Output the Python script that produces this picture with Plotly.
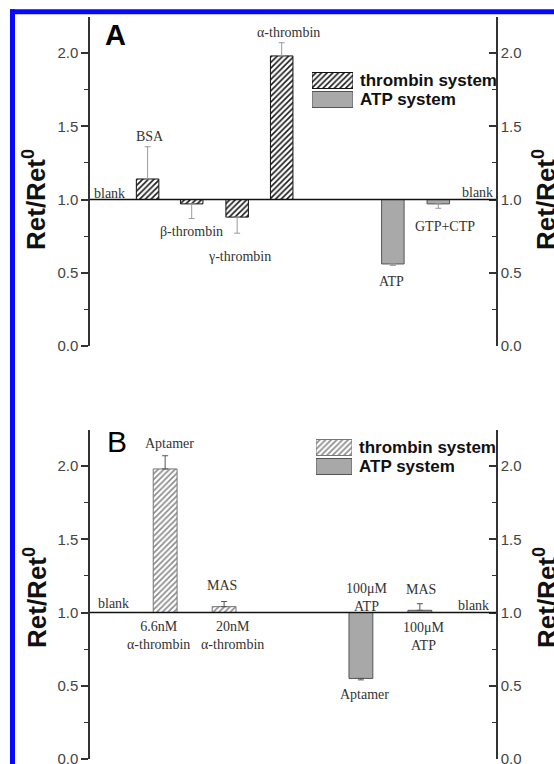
import plotly.graph_objects as go

W, H = 554, 764
baseline = 1.0  # "blank" reference level

# ---------------- data: panel A ----------------
a_names = ["BSA", "β-thrombin", "γ-thrombin", "α-thrombin", "ATP", "GTP+CTP"]
a_values = [1.14, 0.97, 0.88, 1.98, 0.56, 0.97]
a_errors = [0.22, 0.10, 0.11, 0.09, 0.01, 0.03]
a_system = ["thrombin", "thrombin", "thrombin", "thrombin", "ATP", "ATP"]
a_slots = [1.28, 2.26, 3.27, 4.26, 6.73, 7.74]

# ---------------- data: panel B ----------------
b_top_text = ["Aptamer", "MAS", "100μM<br>ATP", "MAS"]
b_bottom_text = ["6.6nM<br>α-thrombin", "20nM<br>α-thrombin", "Aptamer", "100μM<br>ATP"]
b_values = [1.98, 1.04, 0.55, 1.015]
b_errors = [0.09, 0.035, 0.01, 0.045]
b_system = ["thrombin", "thrombin", "ATP", "ATP"]
b_slots = [1.67, 2.98, 6.02, 7.33]

blank_label = "blank"
a_blank_slots = [0.44, 8.6]
b_blank_slots = [0.53, 8.53]

legend_names = ["thrombin system", "ATP system"]
tick_vals = [0, 0.5, 1.0, 1.5, 2.0]
y_max = 2.2457
x_max = 9.0222

# ---------------- styles ----------------
SANS = "Liberation Sans, Arial, sans-serif"
SERIF = "Liberation Serif, Times New Roman, serif"

a_label_dx = [2, 0, 2, 7, -1, 7]
a_label_dy = [10, -13, -23, 10, -16, -18]
a_blank_dy = [6, 7]
b_top_dx = [4, -2, 6, 1]
b_top_dy = [12, 16, 15, 14]
b_bot_dx = [-7, 8, 4, 4]
b_bot_dy = [-23, -23, -15, -24]
b_blank_dy = [9, 7]

style_A = {
    "thrombin": dict(color="white",
                     pattern=dict(shape="/", fgcolor="#1a1a1a", bgcolor="white", size=4, solidity=0.4),
                     line=dict(color="#111", width=1)),
    "ATP": dict(color="#a9a9a9", line=dict(color="#555", width=1)),
}
style_B = {
    "thrombin": dict(color="white",
                     pattern=dict(shape="/", fgcolor="#8a8a8a", bgcolor="white", size=4, solidity=0.4),
                     line=dict(color="#777", width=1)),
    "ATP": dict(color="#a8a8a8", line=dict(color="#555", width=1)),
}


def px_x(p):
    return p / W


def px_y(p):
    return 1 - p / H


fig = go.Figure()


def add_panel(xa, ya, slots, values, errors, systems, styles, width, err_color):
    for sysname in ["thrombin", "ATP"]:
        xs = [s for s, g in zip(slots, systems) if g == sysname]
        ys = [v - baseline for v, g in zip(values, systems) if g == sysname]
        fig.add_trace(go.Bar(x=xs, y=ys, base=[baseline] * len(xs), width=width,
                             marker=styles[sysname], xaxis=xa, yaxis=ya,
                             showlegend=False, hoverinfo="skip"))
    up = [e if v >= baseline else 0 for v, e in zip(values, errors)]
    dn = [e if v < baseline else 0 for v, e in zip(values, errors)]
    fig.add_trace(go.Scatter(x=slots, y=values, mode="markers",
                             marker=dict(size=1, opacity=0), xaxis=xa, yaxis=ya,
                             error_y=dict(type="data", symmetric=False, array=up, arrayminus=dn,
                                          color=err_color, thickness=1, width=3),
                             showlegend=False, hoverinfo="skip"))


add_panel("x", "y", a_slots, a_values, a_errors, a_system, style_A, 0.5, "#9a9a9a")
add_panel("x2", "y3", b_slots, b_values, b_errors, b_system, style_B, 0.53, "#555")

# dummy traces so right-hand axes render
fig.add_trace(go.Scatter(x=[None], y=[None], xaxis="x", yaxis="y2", showlegend=False))
fig.add_trace(go.Scatter(x=[None], y=[None], xaxis="x2", yaxis="y4", showlegend=False))

# legend patches (horizontal bars on small dedicated axes)
for (xa, ya, styles) in [("x3", "y5", style_A), ("x4", "y6", style_B)]:
    for i, sysname in enumerate(["thrombin", "ATP"]):
        fig.add_trace(go.Bar(x=[1], y=[1 - i], base=[0], orientation="h", width=0.842,
                             marker=styles[sysname], xaxis=xa, yaxis=ya,
                             showlegend=False, hoverinfo="skip"))

# ---------------- layout ----------------
x_dom = [px_x(90), px_x(496)]
yA_dom = [px_y(346), px_y(17)]
yB_dom = [px_y(759), px_y(430)]


def yaxis(dom, side, anchor, overlaying=None):
    d = dict(domain=dom, range=[0, y_max], anchor=anchor, side=side, automargin=False,
             showline=True, linecolor="#333", linewidth=1.5,
             ticks="outside" if side == "left" else "inside", ticklen=7, tickwidth=1.5, tickcolor="#333",
             tickvals=tick_vals, tickformat=".1f", ticklabeloverflow="allow",
             tickfont=dict(size=15, color="#444", family=SANS),
             showgrid=False, zeroline=False, fixedrange=True,
             minor=dict(ticks="outside" if side == "left" else "inside", ticklen=4,
                        tickwidth=1.2, tickcolor="#333", tick0=0, dtick=0.25, showgrid=False))
    if overlaying:
        d["overlaying"] = overlaying
    return d


hidden_x = dict(domain=x_dom, range=[0, x_max], visible=False, fixedrange=True, automargin=False)
hid = dict(visible=False, fixedrange=True, automargin=False)

fig.update_layout(
    template="none",
    width=W, height=H, autosize=False,
    margin=dict(l=0, r=0, t=0, b=0, pad=0, autoexpand=False),
    paper_bgcolor="white", plot_bgcolor="rgba(0,0,0,0)",
    barmode="overlay", showlegend=False,
    xaxis=dict(hidden_x, anchor="y"),
    xaxis2=dict(hidden_x, anchor="y3"),
    yaxis=yaxis(yA_dom, "left", "x"),
    yaxis2=yaxis(yA_dom, "right", "x", "y"),
    yaxis3=yaxis(yB_dom, "left", "x2"),
    yaxis4=yaxis(yB_dom, "right", "x2", "y3"),
    xaxis3=dict(hid, domain=[px_x(312), px_x(353)], range=[0, 1], anchor="y5"),
    yaxis5=dict(hid, domain=[px_y(109), px_y(71)], range=[-0.5, 1.5], anchor="x3"),
    xaxis4=dict(hid, domain=[px_x(316), px_x(352)], range=[0, 1], anchor="y6"),
    yaxis6=dict(hid, domain=[px_y(476), px_y(438)], range=[-0.5, 1.5], anchor="x4"),
)

shapes = []
for ya in ["y", "y3"]:
    xd = "x domain" if ya == "y" else "x2 domain"
    shapes.append(dict(type="line", xref=xd, yref=ya, x0=0, x1=1, y0=baseline, y1=baseline,
                       line=dict(color="#111", width=1.5), layer="above"))
# blue frame (top and left edges visible in the crop)
frame = dict(color="rgb(8,8,255)", width=5)
shapes.append(dict(type="line", xref="paper", yref="paper",
                   x0=px_x(10), x1=px_x(600), y0=px_y(11.7), y1=px_y(11.7), line=frame))
shapes.append(dict(type="line", xref="paper", yref="paper",
                   x0=px_x(12.5), x1=px_x(12.5), y0=px_y(9.2), y1=px_y(800), line=frame))
fig.update_layout(shapes=shapes)

ann = []
lab_font = dict(family=SERIF, size=14, color="#333")

# panel A labels
for name, s, v, e, dx, dy in zip(a_names, a_slots, a_values, a_errors, a_label_dx, a_label_dy):
    yend = v + e if v >= baseline else v - e
    ann.append(dict(x=s, y=yend, xref="x", yref="y", text=name, showarrow=False,
                    xanchor="center", yanchor="middle", xshift=dx, yshift=dy, font=lab_font))
for s, dy in zip(a_blank_slots, a_blank_dy):
    ann.append(dict(x=s, y=baseline, xref="x", yref="y", text=blank_label, showarrow=False,
                    xanchor="center", yanchor="middle", yshift=dy, font=lab_font))

# panel B labels
for s, v, e, tt, bt, tdx, tdy, bdx, bdy in zip(b_slots, b_values, b_errors, b_top_text, b_bottom_text,
                                                b_top_dx, b_top_dy, b_bot_dx, b_bot_dy):
    ytop = v + e if v >= baseline else baseline
    ybot = v - e if v < baseline else baseline
    ann.append(dict(x=s, y=ytop, xref="x2", yref="y3", text=tt, showarrow=False,
                    xanchor="center", yanchor="middle", xshift=tdx, yshift=tdy, font=lab_font))
    ann.append(dict(x=s, y=ybot, xref="x2", yref="y3", text=bt, showarrow=False,
                    xanchor="center", yanchor="middle", xshift=bdx, yshift=bdy, font=lab_font))
for s, dy in zip(b_blank_slots, b_blank_dy):
    ann.append(dict(x=s, y=baseline, xref="x2", yref="y3", text=blank_label, showarrow=False,
                    xanchor="center", yanchor="middle", yshift=dy, font=lab_font))

# legend texts
for xa, ya in [("x3", "y5"), ("x4", "y6")]:
    for i, nm in enumerate(legend_names):
        ann.append(dict(x=1, y=1 - i, xref=xa + " domain", yref=ya, text=f"<b>{nm}</b>", showarrow=False,
                        xanchor="left", yanchor="middle", xshift=5,
                        font=dict(family=SANS, size=17, color="#111")))

# axis titles
title_txt = "<b>Ret/Ret<sup>0</sup></b>"
for xc, yc in [(35, 200), (545, 200), (35, 598), (545, 598)]:
    ann.append(dict(x=px_x(xc), y=px_y(yc), xref="paper", yref="paper", text=title_txt,
                    showarrow=False, textangle=-90, xanchor="center", yanchor="middle",
                    font=dict(family=SANS, size=26, color="#111")))

# panel letters
ann.append(dict(x=px_x(115), y=px_y(35), xref="paper", yref="paper", text="<b>A</b>",
                showarrow=False, xanchor="center", yanchor="middle",
                font=dict(family=SANS, size=29, color="#000")))
ann.append(dict(x=px_x(117), y=px_y(441), xref="paper", yref="paper", text="B",
                showarrow=False, xanchor="center", yanchor="middle",
                font=dict(family=SANS, size=30, color="#000")))

fig.update_layout(annotations=ann)

fig.write_html("out.html")
